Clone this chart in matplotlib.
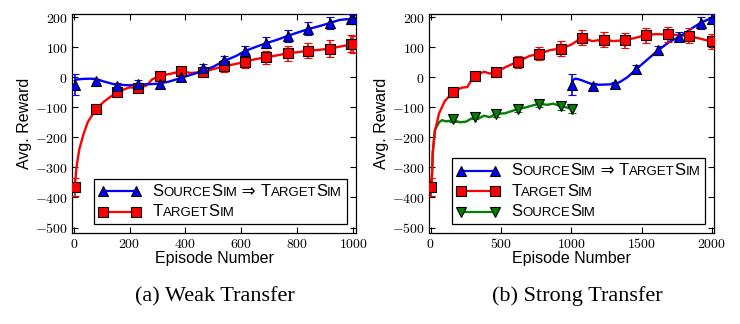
import matplotlib
matplotlib.use('Agg')
import matplotlib.pyplot as plt
from matplotlib.ticker import FuncFormatter, MultipleLocator
from matplotlib.offsetbox import (AnchoredOffsetbox, DrawingArea, HPacker,
                                  TextArea, VPacker)
from matplotlib.lines import Line2D

plt.rcParams['mathtext.fontset'] = 'cm'
plt.rcParams['xtick.direction'] = 'in'
plt.rcParams['ytick.direction'] = 'in'
plt.rcParams['xtick.top'] = True
plt.rcParams['ytick.right'] = True

# ---- (a) weak transfer ----
a_blue_x = [4, 79, 156, 231, 308, 383, 461, 536, 613, 689, 765, 840, 916, 992, 1000]
a_blue_y = [-25, -13, -30, -23, -23, -1, 31, 56, 87, 114, 137, 161, 181, 194, 192]
a_blue_e = [35, 8, 10, 12, 10, 12, 12, 15, 18, 18, 20, 22, 20, 15, 15]
a_blue_lx = [4, 10, 30, 60, 79, 110, 150, 200, 250, 300, 340, 383, 420, 461, 500,
             536, 580, 613, 650, 689, 730, 765, 800, 840, 880, 916, 950, 980, 1000]
a_blue_ly = [-12, -8, -6, -5, -6, -15, -25, -27, -24, -22, -15, -3, 8, 20, 35,
             53, 70, 87, 100, 113, 125, 137, 148, 160, 170, 180, 190, 193, 187]

a_red_x = [4, 79, 156, 231, 308, 383, 461, 536, 613, 689, 765, 840, 916, 992, 1000]
a_red_y = [-364, -107, -49, -36, 5, 19, 17, 36, 51, 66, 79, 88, 95, 111, 109]
a_red_e = [30, 8, 12, 12, 15, 15, 15, 20, 20, 22, 25, 25, 27, 28, 28]
a_red_lx = [4, 10, 20, 35, 50, 79, 110, 156, 200, 231, 260, 280, 308, 350, 383,
            420, 461, 500, 536, 580, 613, 650, 689, 730, 765, 800, 840, 880, 916,
            960, 1000]
a_red_ly = [-364, -300, -240, -190, -150, -107, -80, -49, -34, -36, -28, -8, 5, 12,
            19, 14, 17, 27, 36, 44, 51, 60, 66, 73, 79, 83, 88, 91, 95, 103, 110]

# ---- (b) strong transfer ----
b_blue_x = [1002, 1157, 1312, 1464, 1617, 1769, 1921, 2000]
b_blue_y = [-25, -29, -23, 27, 89, 134, 181, 194]
b_blue_e = [35, 8, 8, 12, 15, 15, 20, 15]
b_blue_lx = [1002, 1010, 1030, 1060, 1100, 1157, 1220, 1312, 1350, 1400, 1464,
             1540, 1617, 1700, 1769, 1850, 1921, 1990, 2000]
b_blue_ly = [-25, -10, -5, -8, -15, -25, -25, -23, -15, 0, 27, 58, 89, 118, 134,
             160, 181, 195, 190]

b_red_x = [5, 160, 312, 464, 619, 771, 924, 1074, 1231, 1383, 1533, 1686, 1838, 2000]
b_red_y = [-366, -49, 5, 17, 52, 78, 95, 131, 125, 123, 140, 142, 137, 120]
b_red_e = [30, 10, 12, 15, 20, 22, 25, 25, 25, 25, 25, 25, 25, 25]
b_red_lx = [5, 10, 15, 30, 60, 100, 160, 220, 260, 290, 312, 380, 420, 464, 540,
            619, 700, 771, 850, 924, 1000, 1074, 1150, 1231, 1300, 1383, 1450,
            1533, 1600, 1686, 1760, 1838, 1900, 2000]
b_red_ly = [-366, -320, -250, -180, -120, -80, -49, -35, -33, -10, 5, 18, 12, 17,
            35, 52, 70, 78, 90, 95, 108, 131, 120, 125, 120, 123, 130, 140, 143,
            142, 140, 137, 130, 118]

b_green_x = [5, 160, 312, 464, 619, 771, 924, 1002]
b_green_y = [-364, -140, -132, -124, -106, -88, -96, -105]
b_green_e = [30, 8, 8, 10, 10, 10, 12, 15]
b_green_lx = [5, 10, 15, 30, 60, 80, 110, 160, 210, 250, 312, 350, 380, 420, 464,
              530, 619, 680, 771, 830, 870, 924, 960, 1002]
b_green_ly = [-364, -320, -250, -175, -150, -143, -147, -143, -150, -148, -132,
              -135, -128, -133, -122, -120, -106, -100, -88, -92, -88, -96, -100,
              -105]

BLUE = '#0000ff'
RED = '#ff0000'
GREEN = '#008000'

fig = plt.figure(figsize=(7.4, 3.24), dpi=100)
ax1 = fig.add_axes([0.0973, 0.2809, 0.3838, 0.6759])
ax2 = fig.add_axes([0.5797, 0.2809, 0.3851, 0.6759])


def series(ax, lx, ly, x, y, e, color, marker):
    ax.plot(lx, ly, color=color, lw=1.7, zorder=2)
    ax.errorbar(x, y, yerr=e, fmt=marker, color=color, ms=7, mfc=color,
                mec='black', mew=0.8, ecolor=color, elinewidth=1.2, capsize=3,
                capthick=1.2, zorder=3)


series(ax1, a_red_lx, a_red_ly, a_red_x, a_red_y, a_red_e, RED, 's')
series(ax1, a_blue_lx, a_blue_ly, a_blue_x, a_blue_y, a_blue_e, BLUE, '^')

series(ax2, b_green_lx, b_green_ly, b_green_x, b_green_y, b_green_e, GREEN, 'v')
series(ax2, b_red_lx, b_red_ly, b_red_x, b_red_y, b_red_e, RED, 's')
series(ax2, b_blue_lx, b_blue_ly, b_blue_x, b_blue_y, b_blue_e, BLUE, '^')

fmt = FuncFormatter(lambda v, p: r'$%d$' % v)
for ax, xmax, step in [(ax1, 1010, 200), (ax2, 2015, 500)]:
    ax.set_xlim(-6, xmax)
    ax.set_ylim(-518, 210)
    ax.xaxis.set_major_locator(MultipleLocator(step))
    ax.yaxis.set_major_locator(MultipleLocator(100))
    ax.xaxis.set_major_formatter(fmt)
    ax.yaxis.set_major_formatter(fmt)
    ax.tick_params(labelsize=10, length=4, width=0.8, pad=3)
    ax.set_xlabel('Episode Number', fontsize=11.5, family='Liberation Sans', labelpad=0)
    ax.set_ylabel('Avg. Reward', fontsize=11.5, family='Liberation Sans', labelpad=2)
    for s in ax.spines.values():
        s.set_linewidth(0.9)
ax2.set_xlim(-12, 2015)

BIG = 12
SMALL = 9.5
FAM = ['Liberation Sans', 'DejaVu Sans']


def smallcaps(word):
    # word given as list of (text, big?) pieces
    return [TextArea(t, textprops=dict(size=BIG if b else SMALL, family=FAM))
            for t, b in word]


src = [('S', True), ('OURCE', False), ('S', True), ('IM', False)]
tgt = [('T', True), ('ARGET', False), ('S', True), ('IM', False)]
arrow = [(' \u21d2 ', True)]


def legend_row(color, marker, pieces):
    da = DrawingArea(30, 10, 0, 0)
    da.add_artist(Line2D([3, 27], [5, 5], color=color, lw=1.6, marker=marker,
                         ms=6.5, mfc=color, mec='black', mew=0.8))
    txt = HPacker(children=smallcaps(pieces), sep=0, pad=0, align='baseline')
    return HPacker(children=[da, txt], sep=9, pad=0, align='center')


def make_legend(ax, rows, anchor):
    box = VPacker(children=rows, sep=4, pad=0, align='left')
    lg = AnchoredOffsetbox(loc='lower right', child=box, pad=0.35, borderpad=0,
                           frameon=True, bbox_to_anchor=anchor,
                           bbox_transform=ax.transAxes)
    lg.patch.set_edgecolor('black')
    lg.patch.set_linewidth(0.9)
    ax.add_artist(lg)


make_legend(ax1, [legend_row(BLUE, '^', src + arrow + tgt),
                  legend_row(RED, 's', tgt)], (0.968, 0.041))
make_legend(ax2, [legend_row(BLUE, '^', src + arrow + tgt),
                  legend_row(RED, 's', tgt),
                  legend_row(GREEN, 'v', src)], (0.97, 0.041))

fig.text(0.291, 0.085, '(a) Weak Transfer', ha='center', va='center',
         family='Liberation Serif', fontsize=16)
fig.text(0.78, 0.085, '(b) Strong Transfer', ha='center', va='center',
         family='Liberation Serif', fontsize=16)

fig.savefig('out.png', dpi=100)
